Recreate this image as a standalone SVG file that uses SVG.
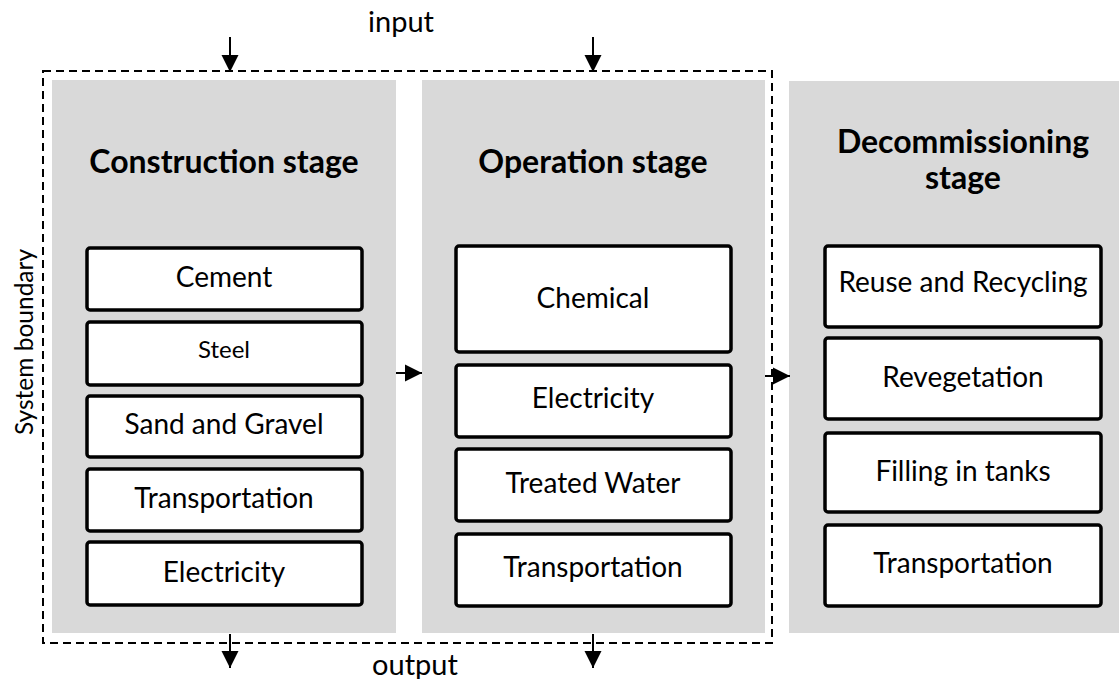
<svg xmlns="http://www.w3.org/2000/svg" width="1119" height="679" viewBox="0 0 1119 679">
<defs>
<style>
.panel{fill:#d9d9d9;stroke:none}
.box{fill:#ffffff;stroke:#000000;stroke-width:3.5}
.t{font-family:Lato,"Liberation Sans",sans-serif;font-size:28px;fill:#000;text-anchor:middle}
.h{font-family:Lato,"Liberation Sans",sans-serif;font-size:32px;font-weight:bold;fill:#000;text-anchor:middle}
.lbl{font-family:Lato,"Liberation Sans",sans-serif;font-size:29px;fill:#000;text-anchor:middle}
.sb{font-family:Lato,"Liberation Sans",sans-serif;font-size:24.5px;fill:#000;text-anchor:middle}
.arr{stroke:#000;stroke-width:2;fill:none;marker-end:url(#ah)}
.bnd{fill:none;stroke:#000;stroke-width:2;stroke-dasharray:8 5}
</style>
<marker id="ah" viewBox="0 0 10 10" refX="10" refY="5" markerUnits="userSpaceOnUse" markerWidth="17" markerHeight="18" orient="auto">
<path d="M0,0 L10,5 L0,10 Z" fill="#000"/>
</marker>
</defs>
<rect width="1119" height="679" fill="#fff"/>

<g id="construction">
<rect class="panel" x="52" y="80" width="344" height="553"/>
<text class="h" x="224" y="173">Construction stage</text>
<rect class="box" x="87" y="248" width="275" height="62" rx="3"/>
<text class="t" x="224" y="287">Cement</text>
<rect class="box" x="87" y="322" width="275" height="63" rx="3"/>
<text class="t" x="224" y="358" style="font-size:24px">Steel</text>
<rect class="box" x="87" y="396" width="275" height="61" rx="3"/>
<text class="t" x="224" y="434">Sand and Gravel</text>
<rect class="box" x="87" y="469" width="275" height="62" rx="3"/>
<text class="t" x="224" y="508">Transportation</text>
<rect class="box" x="87" y="542" width="275" height="63" rx="3"/>
<text class="t" x="224" y="582">Electricity</text>
</g>

<g id="operation">
<rect class="panel" x="422" y="80" width="343" height="553"/>
<text class="h" x="593" y="173">Operation stage</text>
<rect class="box" x="456" y="246" width="275" height="106" rx="3"/>
<text class="t" x="593" y="308">Chemical</text>
<rect class="box" x="456" y="365" width="275" height="72" rx="3"/>
<text class="t" x="593" y="408">Electricity</text>
<rect class="box" x="456" y="449" width="275" height="72" rx="3"/>
<text class="t" x="593" y="493">Treated Water</text>
<rect class="box" x="456" y="534" width="275" height="72" rx="3"/>
<text class="t" x="593" y="577">Transportation</text>
</g>

<g id="decommissioning">
<rect class="panel" x="789" y="81" width="330" height="552"/>
<text class="h" x="963" y="153">Decommissioning</text>
<text class="h" x="963" y="189">stage</text>
<rect class="box" x="825" y="246" width="276" height="81" rx="3"/>
<text class="t" x="963" y="292">Reuse and Recycling</text>
<rect class="box" x="825" y="338" width="276" height="81" rx="3"/>
<text class="t" x="963" y="387">Revegetation</text>
<rect class="box" x="825" y="433" width="276" height="79" rx="3"/>
<text class="t" x="963" y="481">Filling in tanks</text>
<rect class="box" x="825" y="525" width="276" height="81" rx="3"/>
<text class="t" x="963" y="573">Transportation</text>
</g>

<g id="boundary">
<rect class="bnd" x="43" y="71" width="729" height="572"/>
<text class="sb" transform="translate(33,342) rotate(-90)">System boundary</text>
</g>

<g id="labels">
<text class="lbl" x="401" y="32">input</text>
<text class="lbl" x="415" y="675">output</text>
</g>

<g id="connectors">
<line class="arr" x1="230" y1="37" x2="230" y2="72"/>
<line class="arr" x1="593" y1="37" x2="593" y2="72"/>
<line class="arr" x1="230" y1="634" x2="230" y2="668"/>
<line class="arr" x1="593" y1="634" x2="593" y2="668"/>
<line class="arr" x1="396" y1="373" x2="422" y2="373"/>
<line class="arr" x1="765" y1="376" x2="790" y2="376"/>
</g>
</svg>
